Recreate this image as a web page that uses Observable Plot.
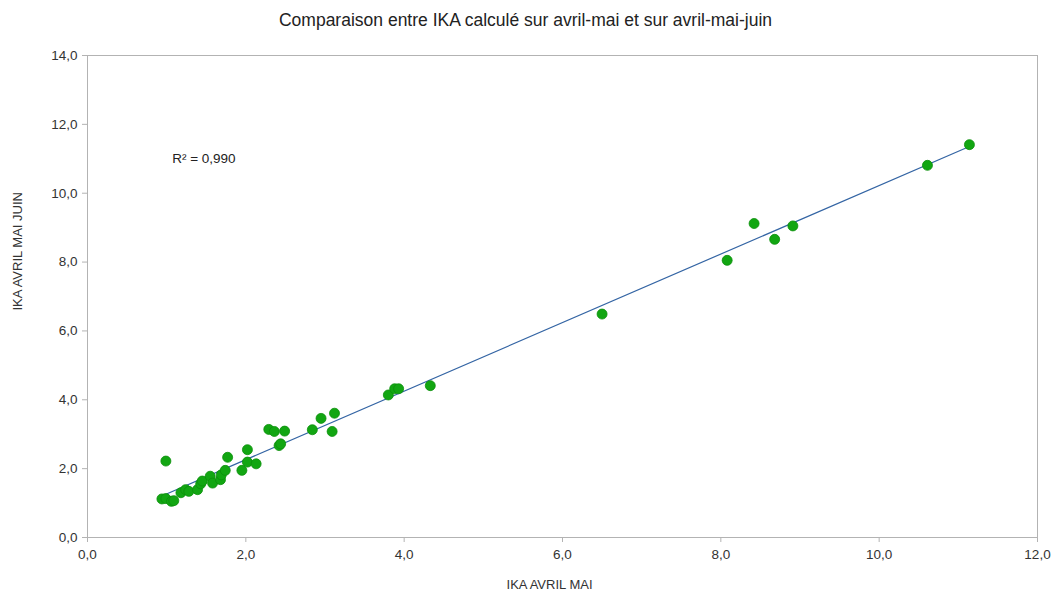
<!DOCTYPE html>
<html>
<head>
<meta charset="utf-8">
<script src="https://cdn.jsdelivr.net/npm/d3@7"></script>
<script src="https://cdn.jsdelivr.net/npm/@observablehq/plot@0.6"></script>
<style>
  html, body { margin: 0; padding: 0; background: #fff; }
  body { width: 1051px; height: 596px; overflow: hidden; font-family: "Liberation Sans", Arial, sans-serif; }
  #title { height: 40px; line-height: 40px; text-align: center; font-size: 17.5px; color: #222; }
</style>
</head>
<body>
<div id="title">Comparaison entre IKA calculé sur avril-mai et sur avril-mai-juin</div>
<div id="chart"></div>
<script>
const xLabel = "IKA AVRIL MAI";
const yLabel = "IKA AVRIL MAI JUIN";
const r2Label = "R² = 0,990";

const ikaAvrilMai = [
  0.94, 0.99, 1.06, 1.09, 0.99, 1.18, 1.24, 1.28, 1.39, 1.43,
  1.45, 1.55, 1.58, 1.68, 1.69, 1.74, 1.77, 1.95, 2.02, 2.02,
  2.13, 2.29, 2.36, 2.49, 2.42, 2.44, 2.84, 2.95, 3.12, 3.09,
  3.80, 3.88, 3.93, 4.33, 6.50, 8.08, 8.42, 8.68, 8.91, 10.61,
  11.14
];
const ikaAvrilMaiJuin = [
  1.12, 1.13, 1.05, 1.07, 2.22, 1.30, 1.39, 1.34, 1.39, 1.56,
  1.64, 1.78, 1.58, 1.68, 1.82, 1.95, 2.33, 1.95, 2.19, 2.55,
  2.14, 3.14, 3.08, 3.09, 2.67, 2.72, 3.13, 3.46, 3.61, 3.08,
  4.14, 4.32, 4.32, 4.41, 6.49, 8.05, 9.12, 8.66, 9.05, 10.81,
  11.41
];
const xTicks = [0, 2, 4, 6, 8, 10, 12];
const yTicks = [0, 2, 4, 6, 8, 10, 12, 14];

const data = ikaAvrilMai.map((x, i) => ({x, y: ikaAvrilMaiJuin[i]}));
const fmt = d => d3.format(".1f")(d).replace(".", ",");

const chart = Plot.plot({
  width: 1051,
  height: 556,
  marginTop: 15,
  marginBottom: 59,
  marginLeft: 87,
  marginRight: 14,
  style: {fontFamily: "Liberation Sans, Arial, sans-serif", fontSize: "13px", color: "#333", background: "#fff"},
  x: {domain: [0, 12], ticks: xTicks, tickFormat: fmt},
  y: {domain: [0, 14], ticks: yTicks, tickFormat: fmt},
  marks: [
    Plot.frame({stroke: "#b3b3b3"}),
    Plot.axisX({ticks: xTicks, tickFormat: fmt, tickSize: 5, tickPadding: 7, stroke: "#b3b3b3",
      label: null, fontSize: 13.5, fill: "#333"}),
    Plot.axisY({ticks: yTicks, tickFormat: fmt, tickSize: 5, tickPadding: 5, stroke: "#b3b3b3",
      label: null, fontSize: 13.5, fill: "#333"}),
    Plot.text([xLabel], {frameAnchor: "bottom", text: d => d, dx: -13, dy: 51, fontSize: 13, fill: "#333"}),
    Plot.text([yLabel], {frameAnchor: "left", text: d => d, rotate: -90, dx: -70, dy: 14, fontSize: 13, fill: "#333"}),
    Plot.linearRegressionY(data, {x: "x", y: "y", stroke: "#3465a4", strokeWidth: 1.2, ci: 0}),
    Plot.dot(data, {x: "x", y: "y", r: 5, fill: "#12a612", stroke: "#0b8f0b", strokeWidth: 0.8}),
    Plot.text([r2Label], {x: 1.07, y: 11.0, text: d => d, textAnchor: "start", fontSize: 13.5, fill: "#222"})
  ]
});
document.getElementById("chart").appendChild(chart);
</script>
</body>
</html>
